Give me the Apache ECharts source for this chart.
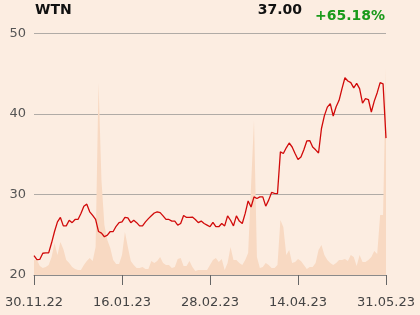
<!DOCTYPE html>
<html><head><meta charset="utf-8">
<script src="https://cdn.jsdelivr.net/npm/echarts@6/dist/echarts.min.js"></script>
<style>html,body{margin:0;padding:0;background:#fcede1;}#c{width:420px;height:315px;}</style>
</head><body><div id="c"></div>
<script>
var title = "WTN";
var lastPrice = "37.00";
var change = "+65.18%";
var tickLabels = ["30.11.22","16.01.23","28.02.23","14.04.23","31.05.23"];
var yTicks = [20, 30, 40, 50];

var price = [
22.4,21.9,21.95,22.7,22.75,22.75,24.0,25.4,26.6,27.15,
26.1,26.1,26.8,26.5,26.9,26.9,27.65,28.55,28.8,27.85,
27.4,26.9,25.4,25.2,24.75,24.95,25.4,25.4,26.05,26.5,
26.6,27.15,27.1,26.5,26.8,26.5,26.1,26.1,26.6,27.0,
27.35,27.7,27.85,27.75,27.35,26.9,26.9,26.7,26.7,26.2,
26.4,27.4,27.15,27.15,27.2,26.9,26.5,26.7,26.4,26.2,
26.0,26.55,26.0,26.0,26.4,26.1,27.35,26.8,26.1,27.35,
26.7,26.4,27.65,29.2,28.45,29.7,29.5,29.7,29.7,28.55,
29.3,30.25,30.15,30.1,35.3,35.1,35.8,36.4,35.9,35.1,
34.35,34.65,35.55,36.65,36.7,35.9,35.55,35.15,38.2,39.8,
40.85,41.3,39.75,40.9,41.7,43.15,44.5,44.1,43.9,43.25,
43.8,43.15,41.35,41.9,41.8,40.25,41.6,42.65,43.9,43.75,
37.0
];
var volume = [
15,15,9,7,8,10,18,32,20,33,
26,15,12,8,6,5,5,10,14,17,
14,28,193,95,50,35,27,15,11,11,
20,43,28,14,10,7,7,8,6,6,
14,12,14,18,12,10,10,7,8,16,
17,9,9,14,8,4,5,5,5,5,
10,15,17,13,16,5,12,28,15,15,
12,10,15,22,90,155,18,7,8,12,
10,7,7,10,55,48,20,25,12,13,
16,14,10,6,8,8,12,25,30,20,
15,12,10,12,15,15,16,14,20,18,
9,20,13,13,15,18,24,21,60,60,
208
];
var idx = price.map(function(_, i){ return i; });

var chart = echarts.init(document.getElementById('c'), null, {renderer:'canvas'});
var F = 'DejaVu Sans';
chart.setOption({
  backgroundColor: '#fcede1',
  animation: false,
  grid: {left: 34, right: 34, top: 33.5, bottom: 40},
  xAxis: {
    type: 'category', data: idx, boundaryGap: false,
    axisLine: {show: true, lineStyle: {color: '#8a8a8a', width: 1}},
    axisTick: {show: true, interval: 29, length: 10, lineStyle: {color: '#666'}},
    axisLabel: {interval: 29, margin: 21, color: '#444', fontFamily: F, fontSize: 13,
      formatter: function(v, i){ var k = Math.round(i/30); return (i % 30 === 0) ? tickLabels[k] : ''; }},
    splitLine: {show: false}
  },
  yAxis: [{
    type: 'value', min: 20, max: 50, interval: 10,
    axisLine: {show: false}, axisTick: {show: false},
    axisLabel: {color: '#555', fontFamily: F, fontSize: 13, margin: 8},
    splitLine: {show: true, lineStyle: {color: '#b0aba6', width: 1}}
  },{
    type: 'value', min: 0, max: 242, show: false, splitLine: {show: false}
  }],
  graphic: [
    {type:'text', left: 35, top: 3, style:{text: title, font: 'bold 14px "DejaVu Sans"', fill:'#111'}},
    {type:'text', right: 118, top: 3, style:{text: lastPrice, font: 'bold 14px "DejaVu Sans"', fill:'#111'}},
    {type:'text', right: 35, top: 9, style:{text: change, font: 'bold 14px "DejaVu Sans"', fill:'#1a9a1a'}}
  ],
  series: [{
    type: 'line', yAxisIndex: 1, data: volume, symbol: 'none', z: 1,
    lineStyle: {width: 0}, areaStyle: {color: '#f8d9c2', opacity: 1}, silent: true
  },{
    type: 'line', yAxisIndex: 0, data: price, symbol: 'none', z: 3,
    lineStyle: {color: '#d10a0a', width: 1.3}
  }]
});
</script></body></html>
